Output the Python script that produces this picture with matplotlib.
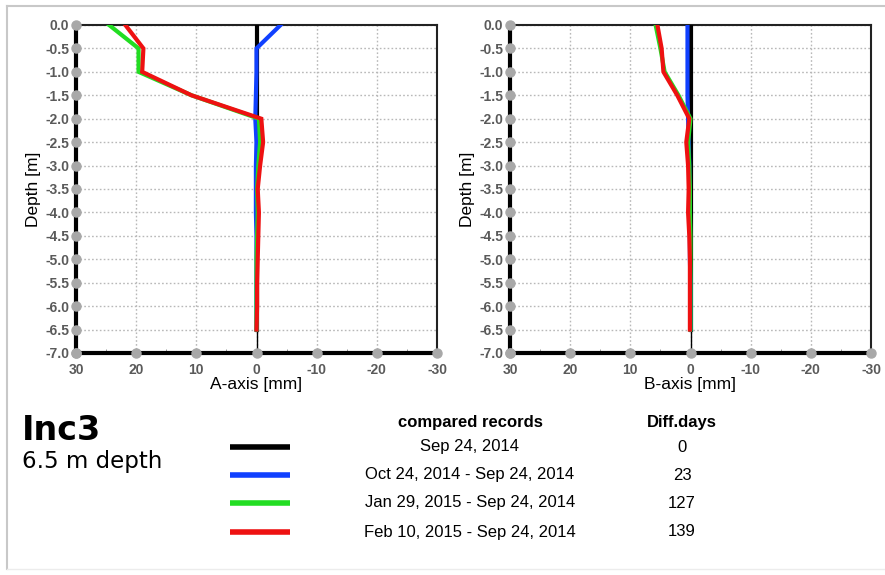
import numpy as np
import matplotlib
matplotlib.use("Agg")
import matplotlib.pyplot as plt
from matplotlib.lines import Line2D

# ---------------- data ----------------
depths = [0.0, -0.5, -1.0, -1.5, -2.0, -2.5, -3.0, -3.5, -4.0, -4.5, -5.0, -5.5, -6.0, -6.5]

ref_A   = [0, 0, 0, 0, 0, 0, 0, 0, 0, 0, 0, 0, 0, 0]
oct_A   = [-4.0, 0.0, 0.0, 0.1, 0.2, 0.0, 0.1, 0.1, 0.1, 0.0, 0.0, 0.0, 0.0, 0.0]
jan_A   = [24.5, 19.6, 19.6, 10.8, -0.4, -0.6, -0.3, -0.1, -0.2, -0.1, 0.0, 0.0, 0.0, 0.0]
feb_A   = [21.8, 18.8, 19.0, 10.8, -0.8, -1.1, -0.6, -0.2, -0.4, -0.3, -0.2, -0.1, -0.1, 0.0]

ref_B   = [0, 0, 0, 0, 0, 0, 0, 0, 0, 0, 0, 0, 0, 0]
oct_B   = [0.5, 0.5, 0.5, 0.5, 0.4, 0.3, 0.2, 0.2, 0.1, 0.1, 0.1, 0.0, 0.0, 0.0]
jan_B   = [5.8, 5.0, 4.3, 2.0, 0.0, 0.4, 0.2, 0.1, 0.1, 0.0, 0.0, 0.0, 0.0, 0.0]
feb_B   = [5.5, 4.8, 4.5, 2.2, 0.2, 0.7, 0.4, 0.3, 0.4, 0.2, 0.1, 0.1, 0.1, 0.1]

series_colors = ["#000000", "#1040ff", "#22dd22", "#ee1111"]
record_labels = ["Sep 24, 2014",
                 "Oct 24, 2014 - Sep 24, 2014",
                 "Jan 29, 2015 - Sep 24, 2014",
                 "Feb 10, 2015 - Sep 24, 2014"]
diff_days = ["0", "23", "127", "139"]

x_ticks = [30, 20, 10, 0, -10, -20, -30]
y_ticks = [0.0, -0.5, -1.0, -1.5, -2.0, -2.5, -3.0, -3.5, -4.0, -4.5, -5.0, -5.5, -6.0, -6.5, -7.0]

title_main = "Inc3"
title_sub = "6.5 m depth"

# ---------------- figure ----------------
W, H = 885, 575
fig = plt.figure(figsize=(W / 100, H / 100), dpi=100)
fig.patch.set_facecolor("white")
sans = ["Liberation Sans", "DejaVu Sans"]

# light frame around the figure
fig.add_artist(Line2D([7 / W, 1.0], [1 - 6 / H, 1 - 6 / H], color="#c8c8c8", lw=1.5, transform=fig.transFigure))
fig.add_artist(Line2D([7 / W, 7 / W], [1 - 6 / H, 1 - 569 / H], color="#c8c8c8", lw=1.5, transform=fig.transFigure))
fig.add_artist(Line2D([7 / W, 1.0], [1 - 569 / H, 1 - 569 / H], color="#ececec", lw=1.0, transform=fig.transFigure))


def make_axes(left_px, xlabel, data):
    ax = fig.add_axes([left_px / W, 1 - 353 / H, 361 / W, 328 / H])
    ax.set_xlim(30, -30)
    ax.set_ylim(-7.0, 0.0)
    ax.set_xticks(x_ticks)
    ax.set_yticks(y_ticks)
    ax.set_xticks(np.arange(-25, 30, 10), minor=True)
    ax.set_xticklabels([str(t) for t in x_ticks])
    ax.set_yticklabels([f"{t:.1f}" for t in y_ticks])
    for lab in ax.get_xticklabels() + ax.get_yticklabels():
        lab.set_family(sans)
        lab.set_fontsize(10)
        lab.set_color("#5a5a5a")
        lab.set_fontweight("bold")
    ax.tick_params(axis="x", which="major", length=0, pad=7)
    ax.tick_params(axis="y", which="major", length=0, pad=5)
    ax.tick_params(axis="x", which="minor", length=3, color="#888888", direction="in")
    ax.grid(True, which="major", color="#b8b8b8", linestyle=(0, (1.2, 1.6)), lw=1.0)
    ax.set_axisbelow(True)
    for side in ["top", "right"]:
        ax.spines[side].set_linewidth(1.5)
        ax.spines[side].set_color("#222222")
    for side in ["left", "bottom"]:
        ax.spines[side].set_linewidth(3)
        ax.spines[side].set_color("#000000")
    # zero reference
    ax.axvline(0, color="black", lw=1.0, zorder=2)
    for vals, c in zip(data, series_colors):
        ax.plot(vals, depths, color=c, lw=3, solid_joinstyle="miter", zorder=3)
    # grey tick knobs on the spines
    ax.plot([30] * len(y_ticks), y_ticks, "o", color="#a8a8a8", ms=6.5, clip_on=False, zorder=5)
    ax.plot(x_ticks, [-7.0] * len(x_ticks), "o", color="#a8a8a8", ms=6.5, clip_on=False, zorder=5)
    ax.set_xlabel(xlabel, family=sans, fontsize=12.5, labelpad=0)
    ax.set_ylabel("Depth [m]", family=sans, fontsize=12.5, labelpad=3)
    return ax


make_axes(76, "A-axis [mm]", [ref_A, oct_A, jan_A, feb_A])
make_axes(510, "B-axis [mm]", [ref_B, oct_B, jan_B, feb_B])

# ---------------- bottom info block ----------------
fig.text(22 / W, 1 - 440 / H, title_main, fontsize=24, fontweight="bold",
         family=["DejaVu Sans"], va="baseline", ha="left")
fig.text(22 / W, 1 - 468 / H, title_sub, fontsize=16.5,
         family=["DejaVu Sans"], va="baseline", ha="left")

fig.text(470 / W, 1 - 422 / H, "compared records", fontsize=12, fontweight="bold",
         family=sans, ha="center", va="center")
fig.text(682 / W, 1 - 422 / H, "Diff.days", fontsize=12, fontweight="bold",
         family=sans, ha="center", va="center")

row_y = [447, 475, 503, 532]
for ry, c, lab, d in zip(row_y, series_colors, record_labels, diff_days):
    fig.add_artist(Line2D([230 / W, 290 / W], [1 - ry / H, 1 - ry / H], color=c, lw=4,
                          solid_capstyle="butt", transform=fig.transFigure))
    fig.text(470 / W, 1 - ry / H, lab, fontsize=12, family=sans, ha="center", va="center")
    fig.text(682 / W, 1 - ry / H, d, fontsize=12, family=sans, ha="center", va="center")

fig.savefig("out.png", dpi=100, facecolor="white")
